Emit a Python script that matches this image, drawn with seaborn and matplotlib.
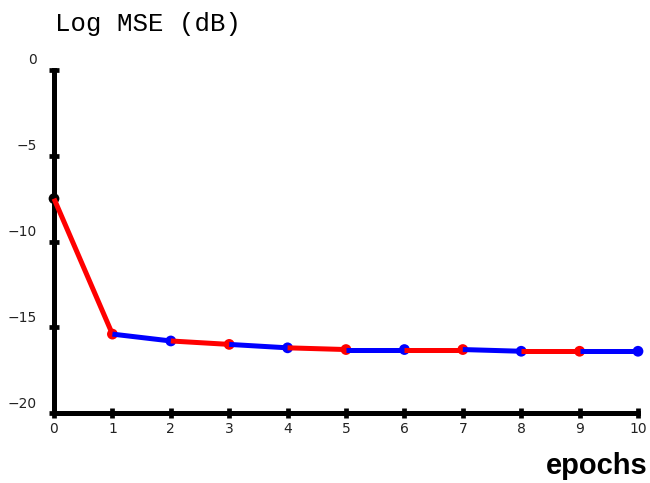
import numpy as np
import pandas as pd
import matplotlib
matplotlib.use("Agg")
import matplotlib.pyplot as plt
import matplotlib.transforms as mtransforms
import seaborn as sns

sns.set_style("white")

# values
epochs = [0, 1, 2, 3, 4, 5, 6, 7, 8, 9, 10]
mse_db = [-7.5, -15.4, -15.8, -16.0, -16.2, -16.3, -16.3, -16.3, -16.4, -16.4, -16.4]
seg_colors = ["red", "blue"]
x_ticks = list(range(0, 11))
y_ticks = [0, -5, -10, -15, -20]

# each segment i -> i+1 gets its own colour, alternating red / blue
rows = []
for i in range(len(epochs) - 1):
    rows.append({"epoch": epochs[i], "mse": mse_db[i], "seg": i})
    rows.append({"epoch": epochs[i + 1], "mse": mse_db[i + 1], "seg": i})
segs = pd.DataFrame(rows)
n_seg = len(epochs) - 1
palette = [seg_colors[i % 2] for i in range(n_seg)]

pts = pd.DataFrame({"epoch": epochs, "mse": mse_db})
pt_colors = ["black"] + palette

fig = plt.figure(figsize=(6.5, 4.83), dpi=100)
ax = fig.add_axes([54 / 650, 70 / 483, 584 / 650, 343 / 483])

sns.scatterplot(data=pts, x="epoch", y="mse", ax=ax, color=pt_colors,
                s=60, linewidth=0, zorder=3, clip_on=False, legend=False)
sns.lineplot(data=segs, x="epoch", y="mse", hue="seg", palette=palette,
             units="seg", estimator=None, sort=False, lw=3.6, ax=ax,
             legend=False, zorder=4)
for ln in ax.lines:
    ln.set_clip_on(False)
    ln.set_solid_capstyle("butt")

ax.set_xlim(0, 10)
ax.set_ylim(-20, 0)
ax.set_xticks(x_ticks)
ax.set_yticks(y_ticks)
ax.set_xlabel("")
ax.set_ylabel("")

for side in ["top", "right"]:
    ax.spines[side].set_visible(False)
for side in ["left", "bottom"]:
    ax.spines[side].set_linewidth(3.6)
    ax.spines[side].set_color("black")

ax.tick_params(axis="both", direction="inout", length=7, width=3.4,
               color="black", labelsize=10, labelcolor="#222222",
               bottom=True, left=True)
ax.tick_params(axis="x", pad=3)
ax.tick_params(axis="y", pad=9)

# y labels sit a bit above their ticks
shift = mtransforms.ScaledTranslation(0, 11 / 100, fig.dpi_scale_trans)
for lab in ax.get_yticklabels():
    lab.set_transform(lab.get_transform() + shift)

fig.text(55 / 650, 1 - 24 / 483, "Log MSE (dB)", family="Liberation Mono",
         fontsize=18.5, va="center", ha="left", color="black")
fig.text(648 / 650, 1 - 466 / 483, "epochs", family="Liberation Sans",
         fontweight="bold", fontsize=21, va="center", ha="right", color="black")

fig.savefig("out.png", dpi=100)
